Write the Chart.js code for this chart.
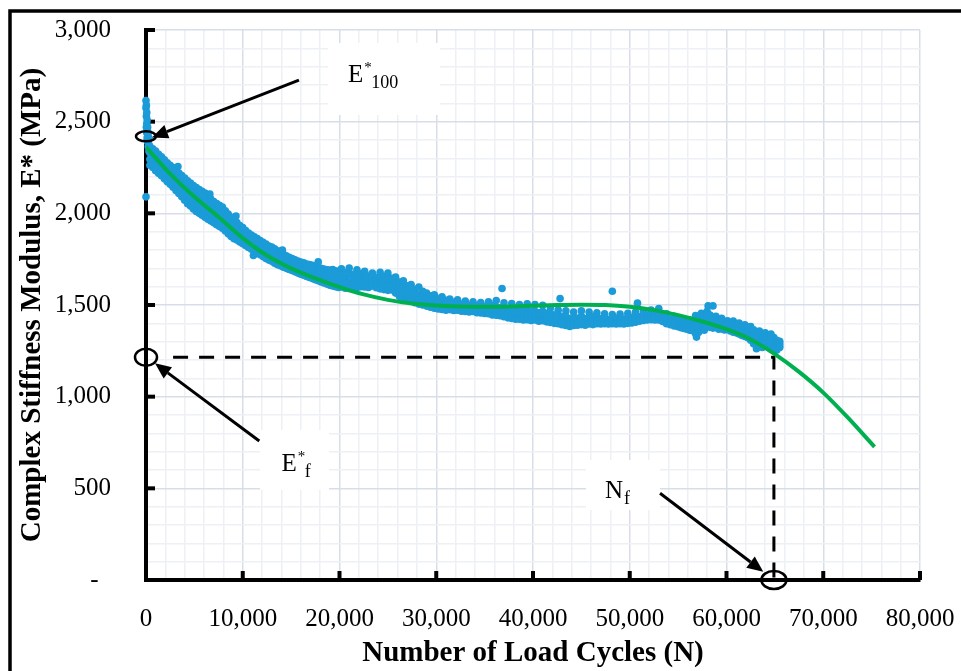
<!DOCTYPE html>
<html>
<head>
<meta charset="utf-8">
<script src="https://cdn.jsdelivr.net/npm/chart.js@4"></script>
<style>
  html, body { margin: 0; padding: 0; background: #fff; }
</style>
</head>
<body>
<canvas id="grafico" width="961" height="671"></canvas>
<script>
// measured complex modulus, each row: [load cycles, E* readings ...] (MPa)
const firstCycles = [
  [0, 2615, 2575, 2090], [40, 2590, 2530, 2470], [80, 2550, 2490, 2440],
  [120, 2510, 2450, 2410], [170, 2470, 2420, 2390], [230, 2440, 2400, 2365],
  [300, 2410, 2375, 2340]
];
const phaseOne = [
  [400, 2365, 2330, 2295, 2262], [700, 2352, 2318, 2280, 2250], [1000, 2340, 2300, 2268, 2232],
  [1300, 2322, 2290, 2250, 2218], [1600, 2308, 2270, 2238, 2205], [1900, 2292, 2258, 2222, 2188],
  [2200, 2276, 2240, 2208, 2172], [2500, 2262, 2226, 2192, 2158], [2800, 2250, 2212, 2178, 2142],
  [3100, 2234, 2196, 2160, 2124], [3300, 2255], [3400, 2220, 2180, 2144, 2108],
  [3700, 2206, 2165, 2126, 2090], [4000, 2192, 2150, 2110, 2072], [4300, 2178, 2135, 2092, 2052],
  [4600, 2165, 2120, 2080, 2040], [4900, 2152, 2108, 2066, 2024], [5200, 2140, 2095, 2052, 2010],
  [5500, 2130, 2085, 2042, 2000], [5800, 2120, 2074, 2032, 1990], [6100, 2110, 2062, 2020, 1978],
  [6400, 2092, 2048, 2008, 1968], [6600, 2105], [6700, 2078, 2035, 1996, 1958],
  [7000, 2064, 2022, 1985, 1948], [7300, 2054, 2012, 1975, 1938], [7600, 2044, 2002, 1965, 1928],
  [7900, 2034, 1990, 1952, 1918], [8200, 2014, 1972, 1938, 1904], [8500, 1996, 1956, 1922, 1888],
  [8800, 1978, 1940, 1906, 1874], [9100, 1962, 1926, 1894, 1862], [9300, 1985],
  [9400, 1950, 1914, 1884, 1854], [9700, 1934, 1900, 1872, 1844], [10000, 1922, 1890, 1862, 1834],
  [10300, 1906, 1876, 1850, 1824], [10600, 1892, 1864, 1838, 1814], [10900, 1882, 1854, 1828, 1804],
  [11100, 1770], [11200, 1872, 1844, 1818, 1794], [11500, 1862, 1834, 1808, 1784],
  [11800, 1852, 1824, 1798, 1774], [12100, 1842, 1814, 1788, 1764], [12400, 1832, 1804, 1778, 1754],
  [12700, 1822, 1796, 1770, 1745], [13000, 1816, 1788, 1762, 1738], [13300, 1806, 1780, 1752, 1728],
  [13600, 1796, 1770, 1744, 1720], [13900, 1786, 1762, 1738, 1714], [14100, 1800],
  [14200, 1776, 1754, 1730, 1706], [14500, 1768, 1746, 1722, 1700], [14800, 1760, 1738, 1716, 1694],
  [15100, 1754, 1732, 1710, 1688], [15400, 1746, 1724, 1702, 1682], [15700, 1740, 1718, 1696, 1674],
  [16000, 1734, 1712, 1690, 1668], [16300, 1730, 1706, 1684, 1662], [16600, 1724, 1700, 1678, 1656],
  [16900, 1720, 1696, 1672, 1650], [17200, 1716, 1692, 1666, 1644], [17500, 1710, 1686, 1660, 1638],
  [17800, 1704, 1680, 1654, 1632, 1735], [18100, 1700, 1674, 1648, 1626], [18400, 1696, 1668, 1642, 1620],
  [18700, 1692, 1664, 1636, 1614], [19000, 1690, 1660, 1632, 1608], [19300, 1694, 1658, 1628, 1604],
  [19600, 1686, 1654, 1626, 1600], [19900, 1680, 1650, 1622, 1596]
];
const phaseTwo = [
  [20200, 1698, 1662, 1630, 1598], [20600, 1675, 1645, 1618, 1592], [21000, 1702, 1668, 1625, 1590],
  [21400, 1668, 1640, 1615, 1596], [21800, 1692, 1660, 1622, 1594], [22200, 1670, 1645, 1620, 1600],
  [22600, 1684, 1652, 1622, 1598], [23000, 1658, 1635, 1615, 1596], [23400, 1674, 1648, 1625, 1604],
  [23800, 1650, 1628, 1610, 1594], [24200, 1678, 1645, 1615, 1588], [24600, 1654, 1630, 1605, 1584],
  [25000, 1674, 1640, 1608, 1580], [25400, 1645, 1620, 1600, 1582], [25800, 1652, 1620, 1590, 1565],
  [26200, 1625, 1598, 1570, 1546], [26600, 1632, 1595, 1565, 1540], [27000, 1605, 1580, 1552, 1530],
  [27400, 1612, 1572, 1545, 1522], [27800, 1586, 1558, 1532, 1512], [28200, 1598, 1555, 1528, 1505],
  [28600, 1575, 1545, 1520, 1500], [29000, 1565, 1535, 1512, 1494], [29400, 1550, 1525, 1505, 1488],
  [29800, 1555, 1522, 1500, 1482], [30200, 1535, 1512, 1495, 1478], [30600, 1545, 1512, 1492, 1476],
  [31000, 1525, 1505, 1488, 1472], [31400, 1532, 1508, 1490, 1475], [31800, 1515, 1498, 1484, 1470],
  [32200, 1528, 1502, 1486, 1472], [32600, 1505, 1490, 1478, 1466], [33000, 1522, 1498, 1482, 1465],
  [33400, 1498, 1486, 1474, 1462], [33800, 1518, 1494, 1478, 1465], [34200, 1495, 1482, 1470, 1458],
  [34600, 1514, 1490, 1472, 1456], [35000, 1492, 1478, 1466, 1454], [35400, 1518, 1488, 1468, 1452],
  [35800, 1498, 1478, 1462, 1446], [36200, 1524, 1490, 1465, 1444], [36600, 1485, 1468, 1455, 1442],
  [36800, 1590], [37000, 1512, 1482, 1458, 1436], [37400, 1475, 1458, 1444, 1430],
  [37800, 1508, 1476, 1450, 1426], [38200, 1465, 1448, 1434, 1422], [38600, 1502, 1470, 1445, 1422],
  [39000, 1475, 1455, 1436, 1418], [39400, 1506, 1472, 1445, 1420], [39800, 1465, 1446, 1430, 1416],
  [40200, 1502, 1466, 1440, 1418], [40600, 1458, 1440, 1426, 1412], [41000, 1498, 1465, 1438, 1414],
  [41400, 1455, 1436, 1422, 1408], [41800, 1485, 1456, 1430, 1405], [42200, 1445, 1428, 1414, 1400],
  [42600, 1472, 1448, 1422, 1398], [42800, 1535], [43000, 1435, 1418, 1404, 1392],
  [43400, 1468, 1440, 1414, 1388], [43800, 1425, 1408, 1396, 1383], [44200, 1462, 1435, 1410, 1388],
  [44600, 1428, 1412, 1400, 1390], [45000, 1468, 1440, 1414, 1393], [45400, 1425, 1410, 1400, 1390],
  [45800, 1462, 1438, 1415, 1396], [46200, 1435, 1418, 1405, 1393], [46600, 1458, 1436, 1416, 1398],
  [47000, 1425, 1412, 1404, 1396], [47400, 1452, 1432, 1414, 1398], [47800, 1420, 1410, 1402, 1396],
  [48200, 1448, 1430, 1412, 1398, 1575], [48600, 1425, 1414, 1405, 1396], [49000, 1450, 1432, 1414, 1398],
  [49400, 1420, 1410, 1404, 1396], [49800, 1455, 1435, 1416, 1400], [50200, 1430, 1418, 1410, 1402],
  [50600, 1462, 1442, 1424, 1406], [50800, 1510], [51000, 1435, 1425, 1418, 1412],
  [51400, 1468, 1450, 1432, 1416], [51800, 1445, 1435, 1426, 1418], [52200, 1472, 1455, 1438, 1420],
  [52600, 1448, 1438, 1428, 1418], [53000, 1480, 1460, 1440, 1418], [53400, 1442, 1430, 1420, 1410],
  [53800, 1452, 1435, 1415, 1398], [54200, 1422, 1410, 1400, 1392], [54600, 1438, 1420, 1402, 1386]
];
const phaseThree = [
  [55000, 1428, 1408, 1392, 1382], [55300, 1410, 1396, 1384, 1376], [55600, 1422, 1402, 1386, 1372],
  [55900, 1404, 1390, 1378, 1368], [56200, 1418, 1398, 1380, 1362], [56500, 1400, 1385, 1372, 1360],
  [56800, 1442, 1415, 1385, 1345], [56900, 1325], [57100, 1425, 1400, 1372, 1350],
  [57400, 1455, 1428, 1402, 1378], [57700, 1435, 1412, 1388, 1362], [58000, 1465, 1438, 1410, 1384],
  [58100, 1495], [58300, 1445, 1420, 1398, 1378], [58600, 1425, 1408, 1390, 1374, 1495],
  [58900, 1438, 1415, 1396, 1378], [59200, 1418, 1402, 1386, 1368], [59500, 1428, 1408, 1390, 1370],
  [59800, 1408, 1392, 1378, 1364], [60100, 1414, 1396, 1380, 1366], [60400, 1402, 1386, 1372, 1358],
  [60700, 1412, 1390, 1370, 1352], [61000, 1398, 1380, 1364, 1348], [61300, 1402, 1378, 1360, 1342],
  [61600, 1388, 1368, 1350, 1334], [61900, 1392, 1366, 1345, 1328], [62200, 1378, 1358, 1340, 1322],
  [62500, 1382, 1352, 1328, 1308], [62800, 1365, 1338, 1312, 1288], [63100, 1352, 1322, 1292, 1262],
  [63400, 1358, 1330, 1302, 1278], [63700, 1342, 1316, 1292, 1268], [64000, 1348, 1326, 1306, 1288],
  [64300, 1332, 1312, 1292, 1274], [64600, 1342, 1312, 1285, 1260], [64900, 1322, 1300, 1282, 1264],
  [65200, 1308, 1290, 1272, 1254], [65500, 1302, 1290, 1278, 1268]
];

// polynomial trend line
const trendCycles = [0, 2500, 5000, 7500, 10000, 12500, 15000, 17500, 20000, 22500,
  25000, 27500, 30000, 32500, 35000, 37500, 40000, 42500, 45000, 47500, 50000,
  52500, 55000, 57500, 60000, 62500, 65000, 67500, 70000, 72500, 75300];
const trendModulus = [2362, 2215, 2090, 1980, 1865, 1770, 1700, 1645, 1598, 1558,
  1528, 1508, 1497, 1492, 1490, 1492, 1496, 1500, 1502, 1500, 1490,
  1472, 1445, 1410, 1368, 1312, 1232, 1135, 1022, 888, 726];

// failure point (Nf, E*f) and initial modulus E*100
const failureCycles = 64900;
const failureModulus = 1215;
const initialModulus = 2420;

const blue = '#1b9bd7';
const green = '#00b050';
const serif = '"Liberation Serif", "Times New Roman", serif';

function readings(rows) {
  let pts = [];
  rows.forEach(r => {
    for (let i = 1; i < r.length; i++) pts.push({ x: r[0], y: r[i] });
  });
  return pts;
}

let measured = readings(firstCycles).concat(readings(phaseOne), readings(phaseTwo), readings(phaseThree));
let trend = trendCycles.map((n, i) => ({ x: n, y: trendModulus[i] }));
let failureLines = [
  { x: 2800, y: failureModulus },
  { x: failureCycles, y: failureModulus },
  { x: failureCycles, y: 0 }
];

// callouts in data units: box centre, arrow tail and arrow tip
const callouts = [
  { main: 'E', sup: '*', sub: '100', at: [24600, 2733], w: 112, h: 72, dx: -36, dy: 3, tail: [15810, 2727], tip: [620, 2414] },
  { main: 'E', sup: '*', sub: 'f', at: [15350, 655], w: 69, h: 60, dx: -13, dy: 11, tail: [11710, 758], tip: [930, 1182] },
  { main: 'N', sup: '', sub: 'f', at: [49300, 518], w: 74, h: 50, dx: -18, dy: 13, tail: [53130, 473], tip: [63800, 45] }
];
const rings = [
  { at: [0, initialModulus], rx: 10, ry: 5 },
  { at: [0, failureModulus], rx: 11, ry: 8.5 },
  { at: [failureCycles, 0], rx: 12.5, ry: 9 }
];

// keep the plot box where the picture has it: no extra label overhang
function fixBox(size) {
  return s => {
    if (s.isHorizontal()) s.height = size; else s.width = size;
    s.paddingTop = 0; s.paddingBottom = 0; s.paddingLeft = 0; s.paddingRight = 0;
  };
}

const frameAndTicks = {
  id: 'frameAndTicks',
  beforeDatasetsDraw(chart) {
    let c = chart.ctx, x = chart.scales.x, y = chart.scales.y;
    let a = chart.chartArea;
    c.save();
    c.strokeStyle = '#000';
    c.lineWidth = 3.5;
    c.beginPath();
    c.moveTo(10, 671); c.lineTo(10, 11); c.lineTo(961, 11);
    c.stroke();
    c.lineWidth = 4;
    y.ticks.forEach(t => {
      if (t.value > 0 && t.value % 500 === 0) {
        let py = y.getPixelForValue(t.value);
        c.beginPath(); c.moveTo(a.left, py); c.lineTo(a.left + 9, py); c.stroke();
      }
    });
    x.ticks.forEach(t => {
      if (t.value > 0 && t.value % 10000 === 0) {
        let px = x.getPixelForValue(t.value);
        c.beginPath(); c.moveTo(px, a.bottom); c.lineTo(px, a.bottom - 9); c.stroke();
      }
    });
    c.restore();
  },
  afterDatasetsDraw(chart) {
    let c = chart.ctx, x = chart.scales.x, y = chart.scales.y;
    c.save();
    c.strokeStyle = '#000';
    c.fillStyle = '#000';
    rings.forEach(r => {
      c.lineWidth = 2.5;
      c.beginPath();
      c.ellipse(x.getPixelForValue(r.at[0]), y.getPixelForValue(r.at[1]), r.rx, r.ry, 0, 0, Math.PI * 2);
      c.stroke();
    });
    callouts.forEach(k => {
      let cx = x.getPixelForValue(k.at[0]), cy = y.getPixelForValue(k.at[1]);
      c.fillStyle = '#fff';
      c.fillRect(cx - k.w / 2, cy - k.h / 2, k.w, k.h);
      let x0 = x.getPixelForValue(k.tail[0]), y0 = y.getPixelForValue(k.tail[1]);
      let x1 = x.getPixelForValue(k.tip[0]), y1 = y.getPixelForValue(k.tip[1]);
      let ang = Math.atan2(y1 - y0, x1 - x0);
      let hx = x1 - 16 * Math.cos(ang), hy = y1 - 16 * Math.sin(ang);
      c.lineWidth = 3;
      c.beginPath(); c.moveTo(x0, y0); c.lineTo(hx, hy); c.stroke();
      c.fillStyle = '#000';
      c.beginPath();
      c.moveTo(x1, y1);
      c.lineTo(hx + 7 * Math.sin(ang), hy - 7 * Math.cos(ang));
      c.lineTo(hx - 7 * Math.sin(ang), hy + 7 * Math.cos(ang));
      c.closePath(); c.fill();
      // label text
      let tx = cx + k.dx, ty = cy + k.dy;
      c.textBaseline = 'alphabetic';
      c.textAlign = 'left';
      c.font = '25px ' + serif;
      c.fillText(k.main, tx, ty);
      tx += c.measureText(k.main).width;
      if (k.sup) {
        c.font = '15px ' + serif;
        c.fillText(k.sup, tx + 1, ty - 10);
        tx += 7;
      }
      c.font = '18px ' + serif;
      c.fillText(k.sub, tx + 1, ty + 6);
    });
    c.restore();
  }
};

let ctx = document.getElementById('grafico');

let grafico = new Chart(ctx, {
  type: 'scatter',
  data: {
    datasets: [
      {
        label: 'Trend',
        type: 'line',
        data: trend,
        borderColor: green,
        borderWidth: 4,
        pointRadius: 0,
        cubicInterpolationMode: 'monotone',
        fill: false,
        order: 0
      },
      {
        label: 'E*',
        data: measured,
        backgroundColor: blue,
        borderWidth: 0,
        pointRadius: 3.8,
        clip: 10,
        order: 1
      },
      {
        label: 'Failure',
        type: 'line',
        data: failureLines,
        borderColor: '#000',
        borderWidth: 3,
        borderDash: [15, 11],
        pointRadius: 0,
        tension: 0,
        fill: false,
        order: 2
      }
    ]
  },
  options: {
    responsive: false,
    animation: false,
    layout: { autoPadding: false, padding: { left: 10, top: 30, right: 41, bottom: 0 } },
    plugins: {
      legend: { display: false },
      tooltip: { enabled: false }
    },
    scales: {
      x: {
        type: 'linear',
        min: 0,
        max: 80000,
        ticks: {
          stepSize: 2000,
          autoSkip: false,
          maxRotation: 0,
          padding: 24,
          color: '#000',
          font: { family: serif, size: 25 },
          callback: v => v % 10000 === 0 ? v.toLocaleString('en-US') : ''
        },
        grid: {
          color: c => c.tick && c.tick.value % 10000 === 0 ? '#d8dee7' : '#edf0f4',
          lineWidth: 1.5,
          drawTicks: false
        },
        border: { display: true, color: '#000', width: 4 },
        title: {
          display: true,
          text: 'Number of Load Cycles (N)',
          color: '#000',
          font: { family: serif, size: 29, weight: 'bold' },
          padding: { top: 0, bottom: 0 }
        },
        afterFit: fixBox(91)
      },
      y: {
        type: 'linear',
        min: 0,
        max: 3000,
        ticks: {
          stepSize: 100,
          autoSkip: false,
          padding: 35,
          color: '#000',
          font: { family: serif, size: 25 },
          callback: v => v === 0 ? '-  ' : (v % 500 === 0 ? v.toLocaleString('en-US') : '')
        },
        grid: {
          color: c => c.tick && c.tick.value % 500 === 0 ? '#d8dee7' : '#edf0f4',
          lineWidth: 1.5,
          drawTicks: false
        },
        border: { display: true, color: '#000', width: 4 },
        title: {
          display: true,
          text: 'Complex Stiffness Modulus, E* (MPa)',
          color: '#000',
          font: { family: serif, size: 29, weight: 'bold' },
          padding: { top: 5, bottom: 0 }
        },
        afterFit: fixBox(136)
      }
    }
  },
  plugins: [frameAndTicks]
});
</script>
</body>
</html>
